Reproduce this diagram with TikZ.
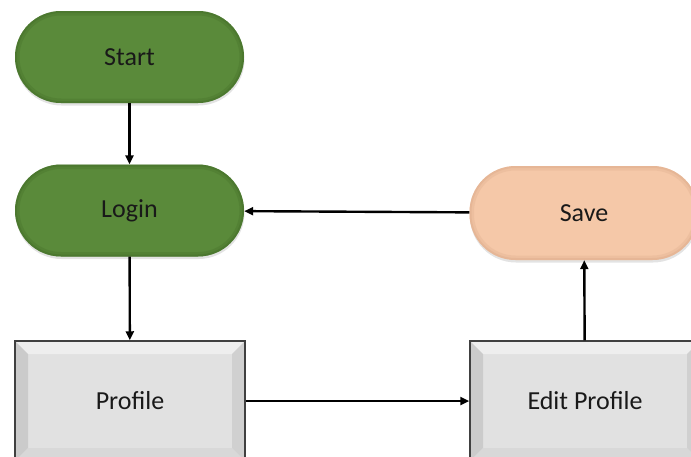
\documentclass[tikz,border=0pt]{standalone}
\usepackage{fontspec}
\setmainfont{Carlito}
\usetikzlibrary{arrows.meta,shadows}

\definecolor{pillgreen}{HTML}{5A8A3A}
\definecolor{pillgreenedge}{HTML}{3F6A26}
\definecolor{pillpeach}{HTML}{F5C8A8}
\definecolor{pillpeachedge}{HTML}{D9A886}
\definecolor{boxface}{HTML}{E1E1E1}
\definecolor{boxtop}{HTML}{EEEEEE}
\definecolor{boxside}{HTML}{CBCBCB}
\definecolor{boxbottom}{HTML}{D8D8D8}
\definecolor{boxline}{HTML}{404040}

\tikzset{
  labeltext/.style={font=\fontsize{26}{30}\selectfont, text=black!90},
  pill/.style={labeltext, rectangle, rounded corners=46pt,
    minimum width=229pt, minimum height=92pt, inner sep=0pt,
    fill=#1,
    drop shadow={opacity=0.22, shadow xshift=0.5pt, shadow yshift=-2.5pt},
    path picture={
      \draw[#1edge, line width=9pt, opacity=0.25, rounded corners=46pt]
        (path picture bounding box.south west) rectangle (path picture bounding box.north east);
      \draw[#1edge, line width=4pt, opacity=0.35, rounded corners=46pt]
        (path picture bounding box.south west) rectangle (path picture bounding box.north east);
    }},
  bevelbox/.style={labeltext, rectangle, draw=boxline, line width=1.5pt,
    fill=boxface, minimum width=230pt, minimum height=120pt, inner sep=0pt,
    path picture={
      \coordinate (bnw) at (path picture bounding box.north west);
      \coordinate (bne) at (path picture bounding box.north east);
      \coordinate (bsw) at (path picture bounding box.south west);
      \coordinate (bse) at (path picture bounding box.south east);
      \fill[boxtop] (bnw) -- (bne) -- ([shift={(-13pt,-13pt)}]bne) -- ([shift={(13pt,-13pt)}]bnw) -- cycle;
      \fill[boxside] (bnw) -- ([shift={(13pt,-13pt)}]bnw) -- ([shift={(13pt,13pt)}]bsw) -- (bsw) -- cycle;
      \fill[boxside!90!white] (bne) -- ([shift={(-13pt,-13pt)}]bne) -- ([shift={(-13pt,13pt)}]bse) -- (bse) -- cycle;
      \fill[boxbottom] (bsw) -- ([shift={(13pt,13pt)}]bsw) -- ([shift={(-13pt,13pt)}]bse) -- (bse) -- cycle;
    }},
  flow/.style={line width=2.4pt, -{Triangle[length=9pt,width=8pt]}}
}

\begin{document}
\begin{tikzpicture}[x=1pt,y=-1pt]
  \useasboundingbox (0,0) rectangle (691,456);

  % terminal and process steps
  \node[pill=pillgreen] (start) at (129.5,57) {Start};
  \node[pill=pillgreen] (login) at (129.5,210.5) {Login};
  \node[pill=pillpeach, minimum height=94pt] (save) at (584,213) {Save};
  \node[bevelbox] (profile) at (130,401) {Profile};
  \node[bevelbox] (edit) at (585,401) {Edit Profile};

  % connectors
  \draw[flow] (start) -- (login);
  \draw[flow] (login) -- (profile);
  \draw[flow] (profile) -- (edit);
  \draw[flow] (edit) -- (save);
  \draw[flow] (save) -- (login);
\end{tikzpicture}
\end{document}
